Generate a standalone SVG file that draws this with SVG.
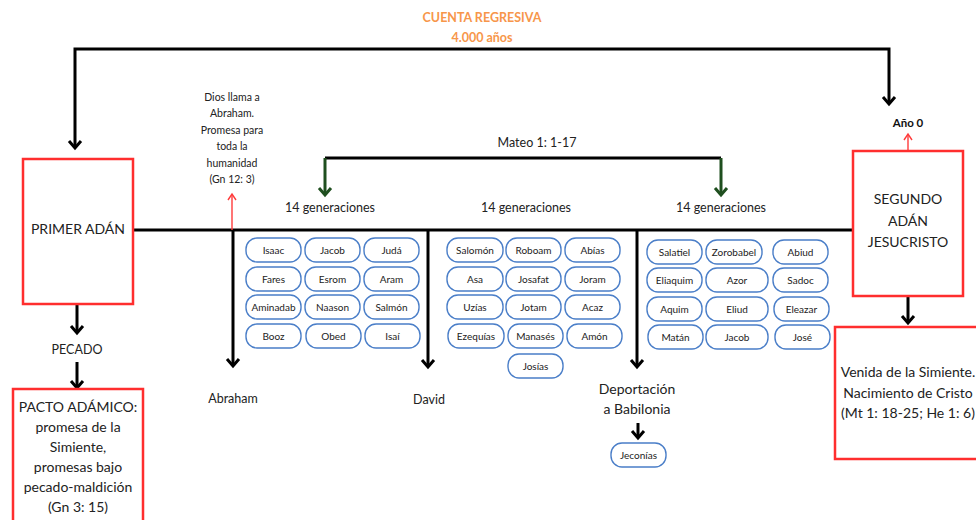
<svg xmlns="http://www.w3.org/2000/svg" width="976" height="520" viewBox="0 0 976 520">
  <style>
    text { font-family: Lato, "Open Sans", "Liberation Sans", sans-serif; fill: #222; text-anchor: middle; }
    .title { font-weight: bold; font-size: 12.5px; fill: #F7964A; }
    .bold { font-weight: bold; font-size: 11.5px; fill: #111; }
    .small { font-size: 10.5px; }
    .mid { font-size: 12.5px; }
    .big { font-size: 14px; }
    .pill rect { fill: #fff; stroke: #4A7EC8; stroke-width: 1.4; }
    .pill text { font-size: 10px; }
    .box { fill: #fff; stroke: #FF2E2E; stroke-width: 2.5; }
    .blk { fill: none; stroke: #000; stroke-width: 3; }
    .grn { fill: none; stroke: #1F4F1F; stroke-width: 3; }
    .red { fill: none; stroke: #FF3B3B; stroke-width: 1.4; }
  </style>

  <!-- headline -->
  <g id="countdown">
    <text class="title" x="482" y="22">CUENTA REGRESIVA</text>
    <text class="title" x="482" y="42">4.000 años</text>
  </g>

  <!-- connectors -->
  <g id="connectors">
    <!-- countdown bracket -->
    <path class="blk" d="M75,148 V49 H889 V104"/>
    <path class="blk" d="M69,141 L75,148 L81,141"/>
    <path class="blk" d="M883,97 L889,104 L895,97"/>
    <!-- main time line -->
    <path class="blk" d="M133,230 H853"/>
    <!-- drops from the time line -->
    <path class="blk" d="M233,230 V366"/>
    <path class="blk" d="M227,359 L233,366 L239,359"/>
    <path class="blk" d="M428,230 V367"/>
    <path class="blk" d="M422,360 L428,367 L434,360"/>
    <path class="blk" d="M637,230 V367"/>
    <path class="blk" d="M631,360 L637,367 L643,360"/>
    <!-- Mateo bracket -->
    <path class="blk" d="M325,158 H721"/>
    <path class="grn" d="M325,158 V195"/>
    <path class="grn" d="M319,188 L325,195 L331,188"/>
    <path class="grn" d="M721,158 V195"/>
    <path class="grn" d="M715,188 L721,195 L727,188"/>
    <!-- left column -->
    <path class="blk" d="M77,304 V333"/>
    <path class="blk" d="M71,326 L77,333 L83,326"/>
    <path class="blk" d="M77,362 V388"/>
    <path class="blk" d="M71,381 L77,388 L83,381"/>
    <!-- right column -->
    <path class="blk" d="M908,296 V323"/>
    <path class="blk" d="M902,316 L908,323 L914,316"/>
    <!-- deportation -->
    <path class="blk" d="M638,423 V438"/>
    <path class="blk" d="M632,431 L638,438 L644,431"/>
    <!-- red pointers -->
    <path class="red" d="M232,230 V195"/>
    <path class="red" d="M228,200 L232,194 L236,200"/>
    <path class="red" d="M908,150 V135"/>
    <path class="red" d="M904,140 L908,134 L912,140"/>
  </g>

  <g id="anio0"><text class="bold" x="908" y="127">Año 0</text></g>

  <g id="dios-llama">
    <text class="small" x="232" y="101">Dios llama a</text>
    <text class="small" x="232" y="117">Abraham.</text>
    <text class="small" x="232" y="134">Promesa para</text>
    <text class="small" x="232" y="150">toda la</text>
    <text class="small" x="232" y="167">humanidad</text>
    <text class="small" x="232" y="183">(Gn 12: 3)</text>
  </g>

  <g id="mateo"><text class="mid" x="537" y="147">Mateo 1: 1-17</text></g>
  <g id="gen1"><text class="mid" x="330" y="212">14 generaciones</text></g>
  <g id="gen2"><text class="mid" x="526" y="212">14 generaciones</text></g>
  <g id="gen3"><text class="mid" x="721" y="212">14 generaciones</text></g>

  <g id="primer-adan">
    <rect class="box" x="23" y="159" width="110" height="145"/>
    <text class="big" x="78" y="234">PRIMER ADÁN</text>
  </g>

  <g id="segundo-adan">
    <rect class="box" x="853" y="151" width="110" height="145"/>
    <text class="big" x="908" y="204">SEGUNDO</text>
    <text class="big" x="908" y="226">ADÁN</text>
    <text class="big" x="908" y="247">JESUCRISTO</text>
  </g>

  <g id="pecado"><text class="mid" x="77" y="354">PECADO</text></g>

  <g id="pacto">
    <rect class="box" x="13" y="389" width="130" height="140"/>
    <text class="big" x="78" y="412">PACTO ADÁMICO:</text>
    <text class="big" x="78" y="432">promesa de la</text>
    <text class="big" x="78" y="452">Simiente,</text>
    <text class="big" x="78" y="472">promesas bajo</text>
    <text class="big" x="78" y="492">pecado-maldición</text>
    <text class="big" x="78" y="512">(Gn 3: 15)</text>
  </g>

  <g id="venida">
    <rect class="box" x="835" y="327" width="150" height="132"/>
    <text class="big" x="908" y="377">Venida de la Simiente.</text>
    <text class="big" x="908" y="398">Nacimiento de Cristo</text>
    <text class="big" x="908" y="418">(Mt 1: 18-25; He 1: 6)</text>
  </g>

  <g id="abraham"><text class="mid" x="233" y="403">Abraham</text></g>
  <g id="david"><text class="mid" x="429" y="404">David</text></g>
  <g id="deportacion">
    <text class="big" x="637" y="394">Deportación</text>
    <text class="big" x="637" y="414">a Babilonia</text>
  </g>

  <!-- generations: Abraham to David -->
  <g id="grupo1" class="pill">
    <rect x="246" y="238" width="55" height="24" rx="11"/><text x="273.5" y="253.5">Isaac</text>
    <rect x="305" y="238" width="55" height="24" rx="11"/><text x="332.5" y="253.5">Jacob</text>
    <rect x="364" y="238" width="55" height="24" rx="11"/><text x="391.5" y="253.5">Judá</text>
    <rect x="246" y="267" width="55" height="24" rx="11"/><text x="273.5" y="282.5">Fares</text>
    <rect x="305" y="267" width="55" height="24" rx="11"/><text x="332.5" y="282.5">Esrom</text>
    <rect x="364" y="267" width="55" height="24" rx="11"/><text x="391.5" y="282.5">Aram</text>
    <rect x="246" y="295" width="55" height="24" rx="11"/><text x="273.5" y="310.5">Aminadab</text>
    <rect x="305" y="295" width="55" height="24" rx="11"/><text x="332.5" y="310.5">Naason</text>
    <rect x="364" y="295" width="55" height="24" rx="11"/><text x="391.5" y="310.5">Salmón</text>
    <rect x="246" y="324" width="55" height="24" rx="11"/><text x="273.5" y="339.5">Booz</text>
    <rect x="306" y="324" width="55" height="24" rx="11"/><text x="333.5" y="339.5">Obed</text>
    <rect x="365" y="324" width="55" height="24" rx="11"/><text x="392.5" y="339.5">Isaí</text>
  </g>

  <!-- generations: David to the deportation -->
  <g id="grupo2" class="pill">
    <rect x="447" y="238" width="56" height="24" rx="11"/><text x="475" y="253.5">Salomón</text>
    <rect x="506" y="238" width="55" height="24" rx="11"/><text x="533.5" y="253.5">Roboam</text>
    <rect x="565" y="238" width="55" height="24" rx="11"/><text x="592.5" y="253.5">Abías</text>
    <rect x="447" y="267" width="56" height="24" rx="11"/><text x="475" y="282.5">Asa</text>
    <rect x="506" y="267" width="55" height="24" rx="11"/><text x="533.5" y="282.5">Josafat</text>
    <rect x="565" y="267" width="55" height="24" rx="11"/><text x="592.5" y="282.5">Joram</text>
    <rect x="447" y="295" width="56" height="24" rx="11"/><text x="475" y="310.5">Uzías</text>
    <rect x="506" y="295" width="55" height="24" rx="11"/><text x="533.5" y="310.5">Jotam</text>
    <rect x="565" y="295" width="55" height="24" rx="11"/><text x="592.5" y="310.5">Acaz</text>
    <rect x="448" y="324" width="56" height="24" rx="11"/><text x="476" y="339.5">Ezequías</text>
    <rect x="508" y="324" width="55" height="24" rx="11"/><text x="535.5" y="339.5">Manasés</text>
    <rect x="567" y="324" width="55" height="24" rx="11"/><text x="594.5" y="339.5">Amón</text>
    <rect x="508" y="354" width="55" height="24" rx="11"/><text x="535.5" y="369.5">Josías</text>
  </g>

  <!-- generations: deportation to Christ -->
  <g id="grupo3" class="pill">
    <rect x="647" y="240" width="55" height="24" rx="11"/><text x="674.5" y="255.5">Salatiel</text>
    <rect x="706" y="240" width="56" height="24" rx="11"/><text x="734" y="255.5">Zorobabel</text>
    <rect x="773" y="240" width="55" height="24" rx="11"/><text x="800.5" y="255.5">Abiud</text>
    <rect x="647" y="268" width="55" height="24" rx="11"/><text x="674.5" y="283.5">Eliaquim</text>
    <rect x="706" y="268" width="62" height="24" rx="11"/><text x="737" y="283.5">Azor</text>
    <rect x="773" y="268" width="55" height="24" rx="11"/><text x="800.5" y="283.5">Sadoc</text>
    <rect x="647" y="297" width="55" height="24" rx="11"/><text x="674.5" y="312.5">Aquim</text>
    <rect x="706" y="297" width="62" height="24" rx="11"/><text x="737" y="312.5">Eliud</text>
    <rect x="774" y="297" width="55" height="24" rx="11"/><text x="801.5" y="312.5">Eleazar</text>
    <rect x="648" y="325" width="55" height="24" rx="11"/><text x="675.5" y="340.5">Matán</text>
    <rect x="706" y="325" width="62" height="24" rx="11"/><text x="737" y="340.5">Jacob</text>
    <rect x="775" y="325" width="55" height="24" rx="11"/><text x="802.5" y="340.5">José</text>
  </g>

  <g id="jeconias" class="pill">
    <rect x="611" y="443" width="55" height="24" rx="11"/><text x="638.5" y="458.5">Jeconías</text>
  </g>
</svg>
